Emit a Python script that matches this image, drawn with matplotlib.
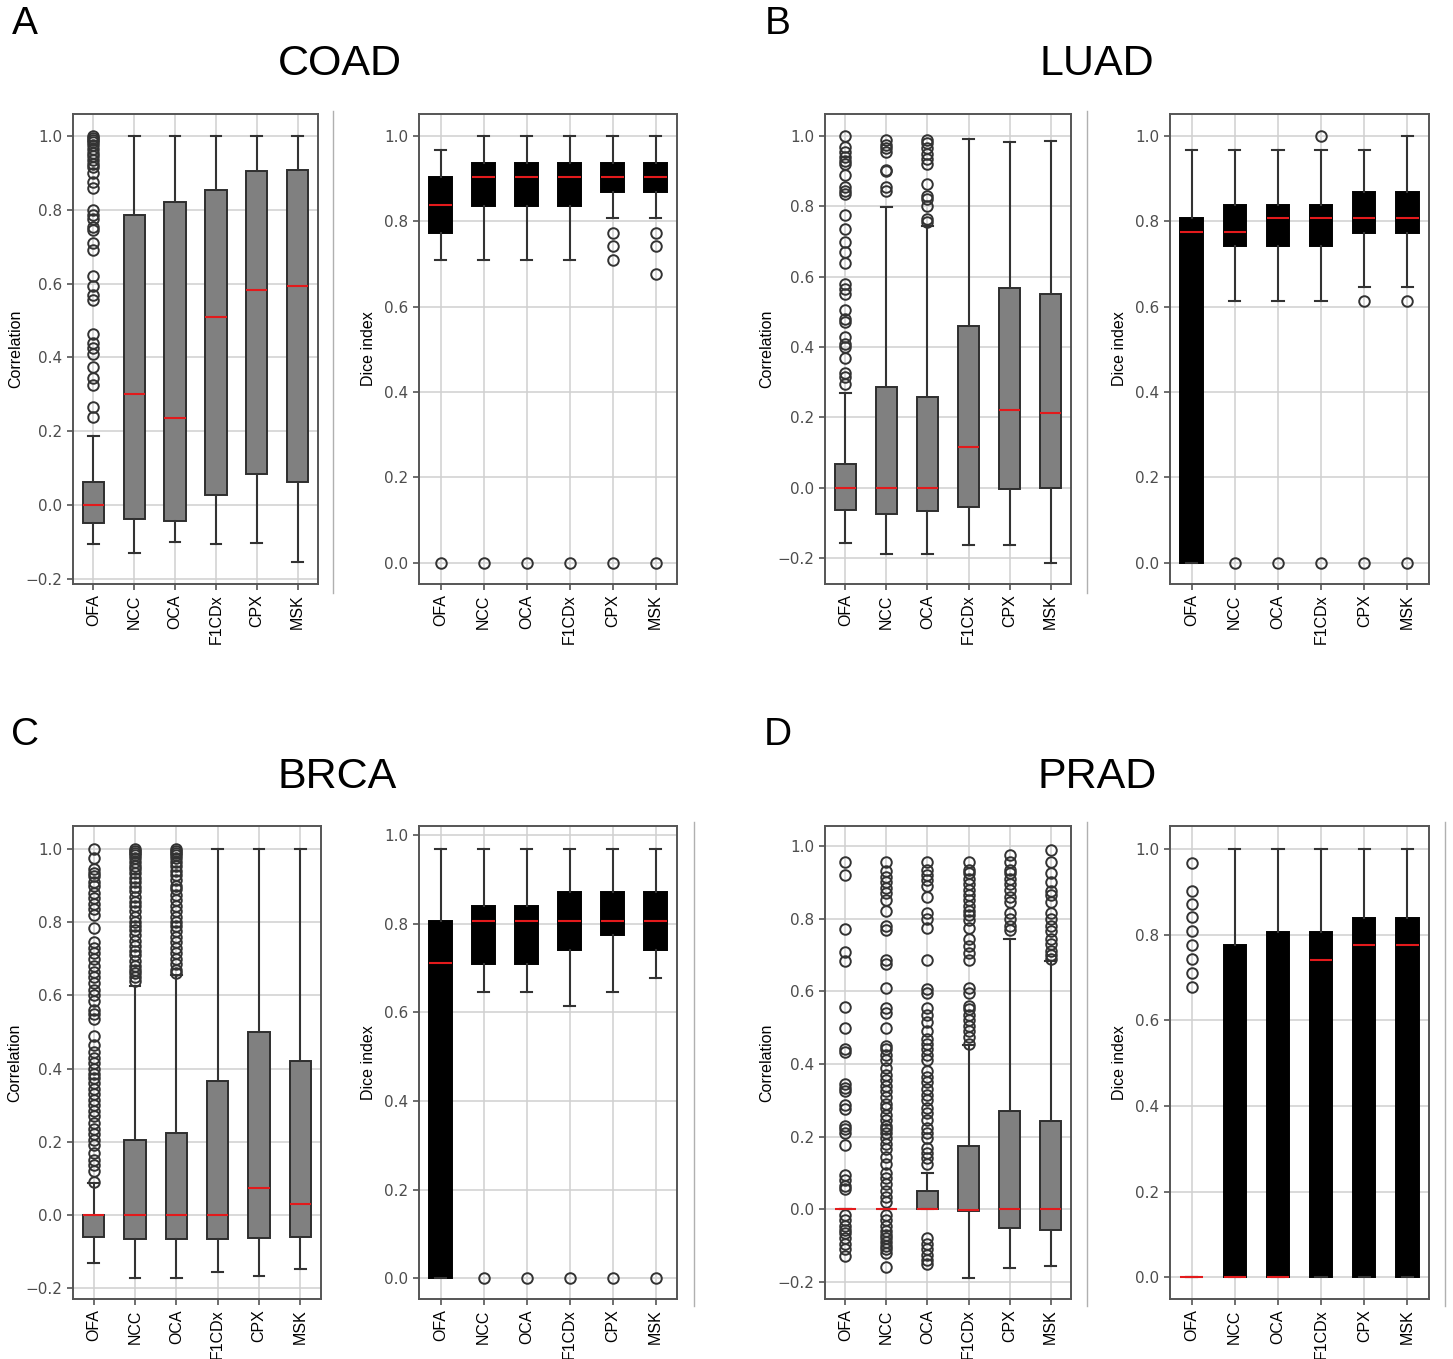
import matplotlib
matplotlib.use("Agg")
import matplotlib.pyplot as plt

W, H = 1453, 1359

methods = ["OFA", "NCC", "OCA", "F1CDx", "CPX", "MSK"]

# ---- box statistics per method: (whislo, q1, med, q3, whishi) ----
coad_corr_box = [(-0.106, -0.048, 0.0, 0.063, 0.188),
                 (-0.130, -0.039, 0.301, 0.787, 1.0),
                 (-0.101, -0.042, 0.235, 0.821, 1.0),
                 (-0.106, 0.027, 0.509, 0.853, 1.0),
                 (-0.103, 0.084, 0.582, 0.905, 1.0),
                 (-0.155, 0.063, 0.593, 0.908, 1.0)]
coad_corr_fliers = [[1.0, 0.995, 0.99, 0.985, 0.975, 0.965, 0.955, 0.945, 0.935, 0.925,
                     0.915, 0.90, 0.875, 0.86, 0.80, 0.785, 0.775, 0.755, 0.745, 0.71,
                     0.69, 0.62, 0.595, 0.57, 0.555, 0.465, 0.44, 0.425, 0.41, 0.375,
                     0.345, 0.325, 0.265, 0.24],
                    [], [], [], [], []]

coad_dice_box = [(0.71, 0.774, 0.838, 0.904, 0.967),
                 (0.71, 0.837, 0.904, 0.936, 1.0),
                 (0.71, 0.837, 0.904, 0.936, 1.0),
                 (0.71, 0.837, 0.904, 0.936, 1.0),
                 (0.807, 0.870, 0.904, 0.936, 1.0),
                 (0.807, 0.870, 0.904, 0.936, 1.0)]
coad_dice_fliers = [[0.0], [0.0], [0.0], [0.0],
                    [0.774, 0.742, 0.71, 0.0],
                    [0.774, 0.742, 0.676, 0.0]]

luad_corr_box = [(-0.157, -0.064, 0.0, 0.068, 0.269),
                 (-0.190, -0.074, 0.0, 0.286, 0.799),
                 (-0.190, -0.066, 0.0, 0.259, 0.745),
                 (-0.162, -0.054, 0.115, 0.460, 0.992),
                 (-0.162, -0.005, 0.220, 0.569, 0.983),
                 (-0.213, 0.0, 0.213, 0.550, 0.987)]
luad_corr_fliers = [[1.0, 0.97, 0.955, 0.94, 0.93, 0.92, 0.89, 0.855, 0.845, 0.835,
                     0.775, 0.735, 0.70, 0.67, 0.64, 0.58, 0.565, 0.55, 0.505, 0.48,
                     0.47, 0.43, 0.41, 0.40, 0.37, 0.325, 0.315, 0.295],
                    [0.99, 0.975, 0.965, 0.955, 0.905, 0.90, 0.855, 0.845],
                    [0.99, 0.98, 0.965, 0.95, 0.935, 0.92, 0.865, 0.83, 0.82, 0.80,
                     0.765, 0.755],
                    [], [], []]

luad_dice_box = [(0.0, 0.0, 0.776, 0.807, 0.968),
                 (0.613, 0.742, 0.776, 0.839, 0.968),
                 (0.613, 0.742, 0.807, 0.839, 0.968),
                 (0.613, 0.742, 0.807, 0.839, 0.968),
                 (0.647, 0.774, 0.807, 0.870, 0.968),
                 (0.647, 0.774, 0.807, 0.870, 1.0)]
luad_dice_fliers = [[], [0.0], [0.0], [1.0, 0.0], [0.613, 0.0], [0.613, 0.0]]

brca_corr_box = [(-0.132, -0.060, 0.0, 0.0, 0.088),
                 (-0.173, -0.067, 0.0, 0.206, 0.625),
                 (-0.173, -0.067, 0.0, 0.223, 0.655),
                 (-0.157, -0.065, 0.0, 0.367, 1.0),
                 (-0.168, -0.062, 0.073, 0.499, 1.0),
                 (-0.147, -0.060, 0.029, 0.421, 1.0)]
brca_corr_fliers = [[0.09, 0.12, 0.135, 0.15, 0.17, 0.19, 0.205, 0.22, 0.235, 0.25,
                     0.27, 0.285, 0.30, 0.315, 0.33, 0.345, 0.36, 0.375, 0.385, 0.40,
                     0.415, 0.43, 0.445, 0.465, 0.49, 0.535, 0.55, 0.56, 0.585, 0.60,
                     0.615, 0.635, 0.65, 0.665, 0.68, 0.70, 0.715, 0.73, 0.745, 0.785,
                     0.82, 0.835, 0.85, 0.865, 0.88, 0.90, 0.91, 0.925, 0.935, 0.945,
                     0.975, 1.0],
                    [0.64, 0.65, 0.66, 0.67, 0.68, 0.695, 0.71, 0.72, 0.735, 0.75,
                     0.765, 0.78, 0.79, 0.80, 0.815, 0.83, 0.845, 0.855, 0.87, 0.885,
                     0.895, 0.91, 0.92, 0.935, 0.945, 0.955, 0.965, 0.975, 0.985, 0.99,
                     0.995, 1.0],
                    [0.66, 0.67, 0.685, 0.70, 0.715, 0.73, 0.745, 0.76, 0.775, 0.79,
                     0.80, 0.815, 0.83, 0.845, 0.86, 0.875, 0.89, 0.90, 0.915, 0.93,
                     0.94, 0.955, 0.965, 0.975, 0.985, 0.99, 0.995, 1.0],
                    [], [], []]

brca_dice_box = [(0.0, 0.0, 0.711, 0.806, 0.967),
                 (0.645, 0.709, 0.806, 0.839, 0.967),
                 (0.645, 0.709, 0.806, 0.839, 0.967),
                 (0.614, 0.741, 0.806, 0.872, 0.967),
                 (0.645, 0.774, 0.806, 0.872, 0.967),
                 (0.678, 0.741, 0.806, 0.872, 0.967)]
brca_dice_fliers = [[], [0.0], [0.0], [0.0], [0.0], [0.0]]

prad_corr_box = [(0.0, 0.0, 0.0, 0.0, 0.0),
                 (0.0, 0.0, 0.0, 0.0, 0.0),
                 (0.0, 0.0, 0.0, 0.050, 0.099),
                 (-0.189, -0.006, -0.003, 0.173, 0.452),
                 (-0.162, -0.051, 0.0, 0.271, 0.744),
                 (-0.156, -0.056, 0.0, 0.242, 0.684)]
prad_corr_fliers = [[0.955, 0.92, 0.771, 0.708, 0.684, 0.558, 0.50, 0.442, 0.432, 0.345,
                     0.335, 0.326, 0.287, 0.277, 0.229, 0.22, 0.21, 0.176, 0.094, 0.08,
                     0.065, 0.055, -0.017, -0.03, -0.046, -0.056, -0.066, -0.08, -0.095,
                     -0.109, -0.129],
                    [0.955, 0.93, 0.915, 0.90, 0.885, 0.87, 0.85, 0.82, 0.78, 0.77,
                     0.685, 0.675, 0.61, 0.555, 0.54, 0.50, 0.45, 0.44, 0.425, 0.41,
                     0.39, 0.37, 0.355, 0.34, 0.325, 0.31, 0.29, 0.28, 0.26, 0.245,
                     0.23, 0.22, 0.21, 0.195, 0.18, 0.165, 0.145, 0.125, 0.10, 0.085,
                     0.07, 0.05, 0.035, 0.02, -0.015, -0.03, -0.045, -0.06, -0.07,
                     -0.08, -0.09, -0.10, -0.11, -0.12, -0.16],
                    [0.955, 0.935, 0.92, 0.905, 0.89, 0.86, 0.815, 0.80, 0.775, 0.685,
                     0.605, 0.595, 0.555, 0.535, 0.515, 0.49, 0.47, 0.455, 0.44, 0.425,
                     0.41, 0.38, 0.365, 0.35, 0.33, 0.315, 0.30, 0.28, 0.265, 0.245,
                     0.225, 0.21, 0.195, 0.17, 0.155, 0.14, 0.125,
                     -0.08, -0.095, -0.11, -0.125, -0.14, -0.15],
                    [0.955, 0.935, 0.925, 0.91, 0.895, 0.88, 0.865, 0.85, 0.835, 0.82,
                     0.81, 0.795, 0.775, 0.745, 0.725, 0.705, 0.685, 0.61, 0.595, 0.56,
                     0.55, 0.535, 0.52, 0.505, 0.49, 0.475, 0.455],
                    [0.975, 0.955, 0.935, 0.925, 0.91, 0.895, 0.88, 0.86, 0.845, 0.815,
                     0.80, 0.78, 0.77],
                    [0.99, 0.955, 0.925, 0.90, 0.875, 0.865, 0.845, 0.815, 0.80, 0.78,
                     0.765, 0.745, 0.73, 0.71, 0.70, 0.69]]

prad_dice_box = [(0.0, 0.0, 0.0, 0.0, 0.0),
                 (0.0, 0.0, 0.0, 0.775, 1.0),
                 (0.0, 0.0, 0.0, 0.807, 1.0),
                 (0.0, 0.0, 0.742, 0.807, 1.0),
                 (0.0, 0.0, 0.775, 0.839, 1.0),
                 (0.0, 0.0, 0.775, 0.839, 1.0)]
prad_dice_fliers = [[0.967, 0.903, 0.872, 0.842, 0.809, 0.776, 0.743, 0.711, 0.678],
                    [], [], [], [], []]

panel_letters = ["A", "B", "C", "D"]
panel_titles = ["COAD", "LUAD", "BRCA", "PRAD"]

corr_ticks = [-0.2, 0.0, 0.2, 0.4, 0.6, 0.8, 1.0]
dice_ticks = [0.0, 0.2, 0.4, 0.6, 0.8, 1.0]

SANS = ["Liberation Sans", "DejaVu Sans"]

fig = plt.figure(figsize=(W / 100, H / 100), dpi=100)


def add_ax(x0, y0, x1, y1):
    return fig.add_axes([x0 / W, 1 - y1 / H, (x1 - x0) / W, (y1 - y0) / H])


def draw(ax, box, fliers, kind, ylim, labelx):
    stats = []
    for (lo, q1, med, q3, hi), fl in zip(box, fliers):
        stats.append(dict(whislo=lo, q1=q1, med=med, q3=q3, whishi=hi, fliers=fl))
    if kind == "corr":
        fc, ec = "#808080", "#2e2e2e"
    else:
        fc, ec = "#000000", "#000000"
    ax.bxp(stats, positions=range(1, 7), widths=0.52, patch_artist=True,
           boxprops=dict(facecolor=fc, edgecolor=ec, linewidth=1.4),
           medianprops=dict(color="#e31a1c", linewidth=1.5),
           whiskerprops=dict(color="#333333", linewidth=1.5),
           capprops=dict(color="#333333", linewidth=1.5),
           flierprops=dict(marker="o", markerfacecolor="none",
                           markeredgecolor="#333333", markersize=7.6,
                           markeredgewidth=1.4))
    ax.set_xlim(0.5, 6.5)
    ax.set_ylim(*ylim)
    ax.set_yticks(corr_ticks if kind == "corr" else dice_ticks)
    ax.set_xticks(range(1, 7))
    ax.set_xticklabels(methods, rotation=90, fontsize=11.5, family=SANS, color="black")
    for t in ax.get_yticklabels():
        t.set_fontsize(11)
        t.set_color("#4d4d4d")
        t.set_family("DejaVu Sans")
    ax.tick_params(axis="both", color="#555555", length=4, width=1.2)
    ax.grid(True, color="#d0d0d0", linewidth=1.1)
    ax.set_axisbelow(True)
    for s in ax.spines.values():
        s.set_color("#555555")
        s.set_linewidth(1.4)
    ax.set_ylabel("Correlation" if kind == "corr" else "Dice index",
                  fontsize=11.5, family=SANS)
    ax.yaxis.set_label_coords(labelx, 0.5)


def vline(x, y0, y1):
    fig.add_artist(plt.Line2D([x / W, x / W], [1 - y0 / H, 1 - y1 / H],
                              color="#b0b0b0", linewidth=1.0))


# Row 1
ax = add_ax(73, 114, 318, 584)
draw(ax, coad_corr_box, coad_corr_fliers, "corr", (-0.214, 1.06), -0.205)
ax = add_ax(419, 114, 677, 584)
draw(ax, coad_dice_box, coad_dice_fliers, "dice", (-0.05, 1.052), -0.165)
ax = add_ax(825, 114, 1071, 584)
draw(ax, luad_corr_box, luad_corr_fliers, "corr", (-0.274, 1.063), -0.205)
ax = add_ax(1170, 114, 1429, 584)
draw(ax, luad_dice_box, luad_dice_fliers, "dice", (-0.05, 1.052), -0.165)

# Row 2
ax = add_ax(73, 826, 321, 1299)
draw(ax, brca_corr_box, brca_corr_fliers, "corr", (-0.23, 1.063), -0.205)
ax = add_ax(419, 826, 677, 1299)
draw(ax, brca_dice_box, brca_dice_fliers, "dice", (-0.047, 1.02), -0.165)
ax = add_ax(825, 826, 1071, 1299)
draw(ax, prad_corr_box, prad_corr_fliers, "corr", (-0.247, 1.055), -0.205)
ax = add_ax(1170, 826, 1429, 1299)
draw(ax, prad_dice_box, prad_dice_fliers, "dice", (-0.051, 1.054), -0.165)

# separators
vline(333, 111, 593)
vline(1087, 111, 593)
vline(694, 822, 1306)
vline(1087, 822, 1306)
vline(1445, 822, 1306)

# letters and titles
letter_pos = [(25, 24), (778, 24), (25, 735), (778, 735)]
title_pos = [(340, 64), (1097, 64), (337, 777), (1097, 777)]
for L, (x, y) in zip(panel_letters, letter_pos):
    fig.text(x / W, 1 - y / H, L, fontsize=28, family=SANS, ha="center", va="center")
for T, (x, y) in zip(panel_titles, title_pos):
    fig.text(x / W, 1 - y / H, T, fontsize=31, family=SANS, ha="center", va="center")

fig.savefig("out.png", dpi=100, facecolor="white")
